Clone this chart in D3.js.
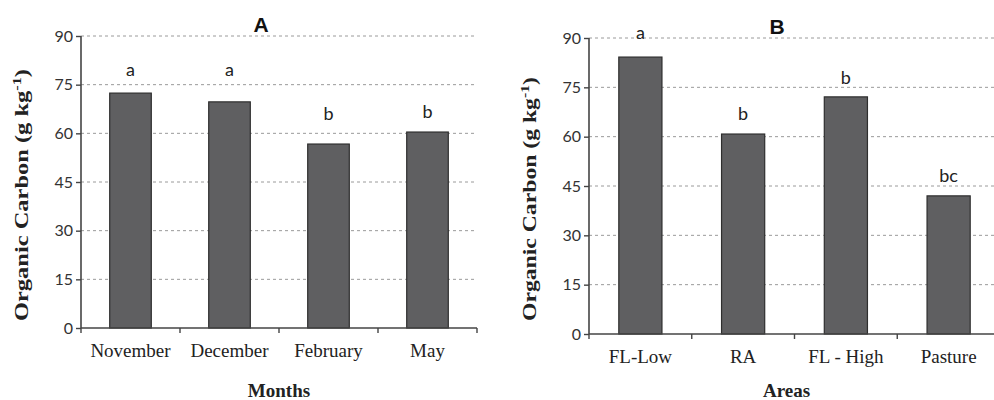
<!DOCTYPE html>
<html>
<head>
<meta charset="utf-8">
<script src="https://cdn.jsdelivr.net/npm/d3@7"></script>
<style>
  body { margin: 0; background: #fff; }
  svg { display: block; }
</style>
</head>
<body>
<div id="chart"></div>
<script>
// panel A - sampling months
var monthNames = ["November", "December", "February", "May"];
var monthCarbon = [72.4, 69.7, 56.7, 60.4];
var monthLetters = ["a", "a", "b", "b"];
var monthLetterLevel = [77.7, 77.7, 64.1, 64.7];

// panel B - areas
var areaNames = ["FL-Low", "RA", "FL - High", "Pasture"];
var areaCarbon = [84.2, 60.8, 72.1, 42.0];
var areaLetters = ["a", "b", "b", "bc"];
var areaLetterLevel = [89.7, 65.1, 76.0, 46.2];

var yTicks = [0, 15, 30, 45, 60, 75, 90];

var svg = d3.select("#chart").append("svg")
    .attr("width", 994)
    .attr("height", 400);

function panel(){
    var names, values, letters, levels, title, xTitle;
    var left, right, top, bottom, yLabelX, yLabelLen, titleX;
    var object = {};

    object.render = function(){
        var g = svg.append("g");
        var y = d3.scaleLinear().domain([0, 90]).range([bottom, top]);
        var x = d3.scaleBand().domain(names).range([left, right]).paddingInner(0.58).paddingOuter(0.29);
        var xb = d3.scaleBand().domain(names).range([left, right]);

        // grid
        g.selectAll(".grid")
            .data(yTicks.slice(1))
            .enter().append("line")
            .attr("x1", left).attr("x2", right)
            .attr("y1", function(d){ return y(d); })
            .attr("y2", function(d){ return y(d); })
            .attr("stroke", "#9a9a9a")
            .attr("stroke-width", 1)
            .attr("stroke-dasharray", "3,3");

        // bars
        g.selectAll(".bar")
            .data(values)
            .enter().append("rect")
            .attr("x", function(d, i){ return x(names[i]); })
            .attr("y", function(d){ return y(d); })
            .attr("width", x.bandwidth())
            .attr("height", function(d){ return bottom - y(d); })
            .attr("fill", "#5f5f61")
            .attr("stroke", "#2e2e2e")
            .attr("stroke-width", 1.2);

        // letters
        g.selectAll(".letter")
            .data(letters)
            .enter().append("text")
            .attr("x", function(d, i){ return x(names[i]) + x.bandwidth()/2; })
            .attr("y", function(d, i){ return y(levels[i]); })
            .attr("text-anchor", "middle")
            .style("font-family", "Lato, 'Open Sans', sans-serif")
            .style("font-size", "18px")
            .style("fill", "#222")
            .text(function(d){ return d; });

        // y axis
        var yAxis = g.append("g")
            .attr("transform", "translate(" + left + ",0)")
            .call(d3.axisLeft(y).tickValues(yTicks).tickSize(5).tickPadding(3));
        yAxis.select(".domain").attr("stroke", "#444").attr("stroke-width", 1.6).attr("d", "M0," + bottom + "V" + top);
        yAxis.selectAll(".tick line").attr("stroke", "#444").attr("stroke-width", 1.4);
        yAxis.selectAll("text")
            .style("font-family", "Lato, 'Open Sans', sans-serif")
            .style("font-size", "16px")
            .style("fill", "#333");

        // x axis, ticks on band edges
        var xAxis = g.append("g")
            .attr("transform", "translate(0," + bottom + ")");
        xAxis.append("line")
            .attr("x1", left).attr("x2", right)
            .attr("stroke", "#444").attr("stroke-width", 1.6);
        xAxis.selectAll(".xtick")
            .data(names.concat(["end"]))
            .enter().append("line")
            .attr("x1", function(d, i){ return i < names.length ? xb(d) : right; })
            .attr("x2", function(d, i){ return i < names.length ? xb(d) : right; })
            .attr("y1", 0).attr("y2", 5)
            .attr("stroke", "#444").attr("stroke-width", 1.4);
        xAxis.selectAll(".xlabel")
            .data(names)
            .enter().append("text")
            .attr("x", function(d){ return xb(d) + xb.bandwidth()/2; })
            .attr("y", 29)
            .attr("text-anchor", "middle")
            .style("font-family", "'Liberation Serif', 'Times New Roman', serif")
            .style("font-size", "19px")
            .style("fill", "#222")
            .text(function(d){ return d; });

        // axis titles
        g.append("text")
            .attr("x", (left + Math.min(right, 994)) / 2 + (right > 994 ? -5 : 0))
            .attr("y", 397)
            .attr("text-anchor", "middle")
            .style("font-family", "'Liberation Serif', 'Times New Roman', serif")
            .style("font-weight", "bold")
            .style("font-size", "19px")
            .style("fill", "#222")
            .text(xTitle);

        var yl = g.append("text")
            .attr("transform", "translate(" + yLabelX + "," + ((top + bottom) / 2 + 13) + ") rotate(-90)")
            .attr("text-anchor", "middle")
            .attr("textLength", yLabelLen)
            .attr("lengthAdjust", "spacingAndGlyphs")
            .style("font-family", "'Liberation Serif', 'Times New Roman', serif")
            .style("font-weight", "bold")
            .style("font-size", "18px")
            .style("fill", "#222");
        yl.append("tspan").text("Organic Carbon (g kg");
        yl.append("tspan").attr("baseline-shift", "super").style("font-size", "12px").text("-1");
        yl.append("tspan").text(")");

        g.append("text")
            .attr("x", titleX)
            .attr("y", top - 4)
            .attr("text-anchor", "middle")
            .style("font-family", "'Liberation Sans', Arial, sans-serif")
            .style("font-weight", "bold")
            .style("font-size", "21px")
            .style("fill", "#111")
            .text(title);
        return object;
    };

    object.data = function(n, v, l, lv){
        names = n; values = v; letters = l; levels = lv;
        return object;
    };
    object.titles = function(t, xt){
        title = t; xTitle = xt;
        return object;
    };
    object.frame = function(l, r, t, b){
        left = l; right = r; top = t; bottom = b;
        return object;
    };
    object.labels = function(ylx, yll, tx){
        yLabelX = ylx; yLabelLen = yll; titleX = tx;
        return object;
    };
    return object;
}

panel().data(monthNames, monthCarbon, monthLetters, monthLetterLevel)
    .titles("A", "Months")
    .frame(81, 477, 36, 328)
    .labels(28, 252, 261)
    .render();

panel().data(areaNames, areaCarbon, areaLetters, areaLetterLevel)
    .titles("B", "Areas")
    .frame(589, 1000, 38, 334)
    .labels(536, 244, 777)
    .render();
</script>
</body>
</html>
